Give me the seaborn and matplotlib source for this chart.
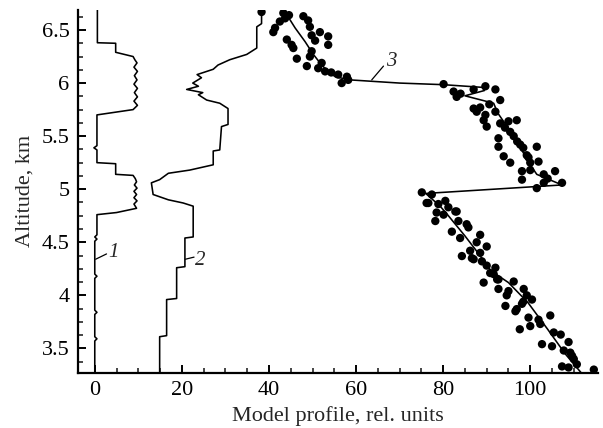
import numpy as np
import pandas as pd
import matplotlib
matplotlib.use("Agg")
import matplotlib.pyplot as plt
import seaborn as sns

# ---------------- data ----------------
# Profile 1 (step-like profile near zero)
p1_x = [0, 0, 0.5, 0, 0, 0.5, 0, 0, 0.5, 0, 0, 0.5, 0, 0.5, 0.5, 5.0, 9.6,
        9.0, 9.7, 9.0, 9.6, 9.0, 9.7, 9.1, 9.6, 9.3, 8.8, 4.8, 4.8, 0.5, 0.5,
        -0.2, 0.5, 0.5, 8.8, 9.8, 9.0, 9.8, 9.1, 9.8, 9.0, 9.7, 9.1, 9.8, 9.0,
        9.7, 9.2, 8.8, 4.8, 4.8, 0.6, 0.6]
p1_y = [3.27, 3.57, 3.59, 3.61, 3.82, 3.84, 3.86, 4.16, 4.18, 4.20, 4.51, 4.53,
        4.55, 4.57, 4.76, 4.78, 4.82, 4.86, 4.89, 4.92, 4.95, 4.98, 5.01, 5.04,
        5.07, 5.10, 5.13, 5.14, 5.24, 5.25, 5.37, 5.39, 5.41, 5.70, 5.75, 5.79,
        5.83, 5.87, 5.91, 5.95, 5.99, 6.03, 6.07, 6.11, 6.15, 6.19, 6.22, 6.25,
        6.29, 6.375, 6.38, 6.69]

# Profile 2
p2_x = [14.9, 14.9, 16.5, 16.5, 18.8, 18.8, 20.7, 20.7, 22.6, 22.6, 20.3, 16.9,
        13.4, 13.0, 14.9, 16.9, 21.8, 27.2, 27.2, 28.7, 29.1, 30.6, 30.6, 28.7,
        25.7, 23.8, 24.8, 21.1, 23.8, 22.5, 24.5, 23.5, 27.2, 28.3, 31.0, 34.9,
        37.2, 37.2, 38.3, 38.3]
p2_y = [3.27, 3.61, 3.62, 3.96, 3.97, 4.26, 4.27, 4.54, 4.55, 4.84, 4.87, 4.90,
        4.95, 5.06, 5.09, 5.15, 5.18, 5.23, 5.36, 5.37, 5.59, 5.61, 5.76, 5.81,
        5.84, 5.89, 5.91, 5.94, 5.97, 6.00, 6.05, 6.08, 6.13, 6.17, 6.22, 6.27,
        6.33, 6.53, 6.56, 6.69]

# Profile 3 (model line)
p3_x = [111.7, 108.0, 104.0, 99.5, 95.0, 91.0, 88.0, 85.0, 81.0, 79.3, 76.0,
        107.3, 101.5, 100.0, 96.2, 92.5, 91.6, 85.0, 89.5, 88.9, 80.0, 70.0,
        58.6, 55.2, 53.6, 52.1, 50.2, 48.3, 46.0, 43.7]
p3_y = [3.27, 3.45, 3.68, 3.93, 4.12, 4.23, 4.40, 4.56, 4.76, 4.84, 4.96,
        5.04, 5.14, 5.23, 5.50, 5.72, 5.81, 5.88, 5.93, 5.96, 5.985, 6.00,
        6.03, 6.06, 6.11, 6.17, 6.27, 6.39, 6.52, 6.67]

# Profile 3 (measured points)
pts_x = [38.3, 43.3, 43.7, 42.5, 41.4, 41.0, 47.9, 49.0, 49.4, 49.8, 51.7, 53.6,
         53.6, 44.1, 45.2, 45.6, 46.4, 49.8, 49.4, 52.1, 51.3, 48.7, 55.9, 56.7,
         57.9, 58.2, 52.9, 44.6, 50.6, 54.3,
         80.1, 82.4, 83.1, 87.0, 89.7, 92.0, 93.1, 87.0, 88.5, 87.7, 89.7, 89.3,
         92.0, 90.0, 93.1, 95.0, 96.9, 95.4, 96.2, 92.7, 92.7, 97.7, 98.4, 101.5,
         99.2, 93.9, 95.4, 100.0, 101.9, 98.1, 100.0, 98.1, 103.1, 105.7, 107.3,
         101.5, 103.1, 84.0, 90.6, 94.2, 97.0, 99.6, 104.0,
         75.1, 77.4, 76.6, 78.9, 80.5, 78.5, 78.2, 80.1, 82.8, 83.5, 85.4, 82.0,
         83.9, 85.8, 88.5, 87.7, 90.0, 86.2, 84.3, 87.0, 88.9, 90.0, 92.0, 90.8,
         91.6, 92.4, 96.2, 92.7, 94.6, 98.5, 99.2, 100.4, 98.1, 94.3, 96.6, 99.6,
         101.9, 104.6, 102.3, 100.0, 105.4, 107.0, 102.7, 105.0, 108.8, 107.7,
         109.2, 110.0, 107.3, 108.8, 114.6, 110.7,
         76.2, 83.1, 88.5, 86.6, 89.3, 92.7, 95.0, 96.9, 98.4, 109.6, 81.2, 97.6]
pts_y = [6.67, 6.66, 6.61, 6.58, 6.52, 6.48, 6.63, 6.59, 6.53, 6.45, 6.48, 6.44,
         6.36, 6.41, 6.36, 6.33, 6.23, 6.30, 6.25, 6.19, 6.14, 6.16, 6.08, 6.00,
         6.06, 6.03, 6.11, 6.64, 6.40, 6.10,
         5.99, 5.92, 5.87, 5.94, 5.97, 5.94, 5.84, 5.76, 5.77, 5.73, 5.70, 5.65,
         5.73, 5.59, 5.62, 5.64, 5.65, 5.54, 5.50, 5.48, 5.40, 5.42, 5.39, 5.40,
         5.32, 5.31, 5.25, 5.25, 5.26, 5.17, 5.18, 5.09, 5.14, 5.17, 5.06,
         5.01, 5.06, 5.90, 5.80, 5.58, 5.45, 5.30, 5.10,
         4.97, 4.95, 4.87, 4.86, 4.89, 4.78, 4.70, 4.76, 4.79, 4.70, 4.67, 4.60,
         4.54, 4.64, 4.57, 4.50, 4.46, 4.42, 4.37, 4.34, 4.32, 4.28, 4.26, 4.21,
         4.20, 4.15, 4.13, 4.06, 4.00, 4.06, 4.00, 3.96, 3.92, 3.90, 3.85, 3.79,
         3.77, 3.81, 3.73, 3.71, 3.65, 3.63, 3.54, 3.52, 3.56, 3.48,
         3.46, 3.40, 3.33, 3.32, 3.30, 3.35,
         4.87, 4.79, 4.40, 4.35, 4.12, 4.15, 4.04, 3.87, 3.94, 3.43, 4.83, 3.68]

x_ticks = [0, 20, 40, 60, 80, 100]
y_ticks = [3.5, 4, 4.5, 5, 5.5, 6, 6.5]
y_tick_labels = ["3.5", "4", "4.5", "5", "5.5", "6", "6.5"]

# ---------------- plot ----------------
sns.set_style("ticks")
plt.rcParams["font.family"] = ["Liberation Serif", "DejaVu Serif"]

fig = plt.figure(figsize=(6.03, 4.28), dpi=100)
ax = fig.add_axes([0.129, 0.129, 0.863, 0.848])

lw = 1.15
for xs, ys in [(p1_x, p1_y), (p2_x, p2_y), (p3_x, p3_y)]:
    df = pd.DataFrame({"x": xs, "y": ys})
    sns.lineplot(data=df, x="x", y="y", sort=False, estimator=None,
                 color="black", linewidth=lw, ax=ax)

dfp = pd.DataFrame({"x": pts_x, "y": pts_y})
sns.scatterplot(data=dfp, x="x", y="y", color="black", s=36,
                edgecolor="none", ax=ax)

ax.set_xlim(-3.9, 115.6)
ax.set_ylim(3.27, 6.69)
ax.set_xticks(x_ticks)
ax.set_xticklabels([str(t) for t in x_ticks])
ax.set_yticks(y_ticks)
ax.set_yticklabels(y_tick_labels)
ax.set_xticks(np.arange(0, 116, 5), minor=True)
ax.set_yticks(np.arange(3.375, 6.69, 0.125), minor=True)

ax.tick_params(which="major", direction="in", length=6, width=1.4,
               labelsize=16, pad=6, colors="black")
ax.tick_params(which="minor", direction="in", length=3.5, width=1.2)

for s in ["top", "right"]:
    ax.spines[s].set_visible(False)
for s in ["left", "bottom"]:
    ax.spines[s].set_linewidth(1.6)
    ax.spines[s].set_color("black")

ax.set_xlabel("Model profile, rel. units", fontsize=16, labelpad=4)
ax.set_ylabel("Altitude, km", fontsize=16, labelpad=5)

# curve labels with leader lines
ax.plot([0.2, 2.7], [4.34, 4.39], color="black", lw=0.9)
ax.text(3.0, 4.40, "1", fontsize=15, style="italic", va="center", ha="left")
ax.plot([20.8, 22.8], [4.34, 4.36], color="black", lw=0.9)
ax.text(23.0, 4.33, "2", fontsize=15, style="italic", va="center", ha="left")
ax.plot([63.6, 66.3], [6.03, 6.16], color="black", lw=0.9)
ax.text(66.8, 6.20, "3", fontsize=15, style="italic", va="center", ha="left")

fig.savefig("out.png", dpi=100)
